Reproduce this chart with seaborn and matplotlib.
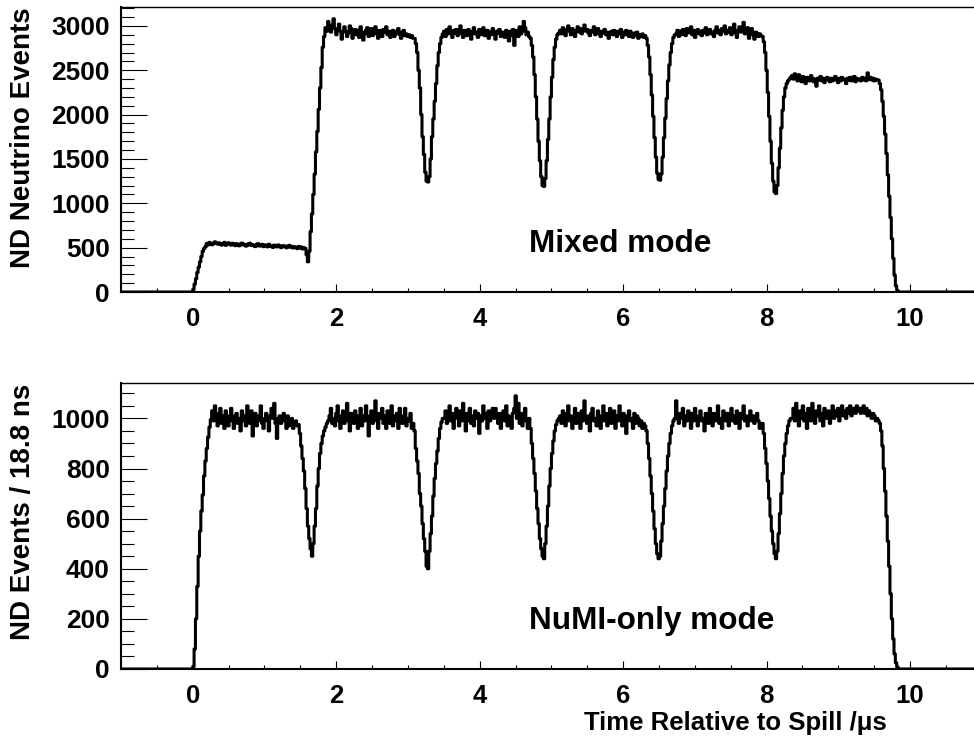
import numpy as np
import pandas as pd
import matplotlib
matplotlib.use("Agg")
import matplotlib.pyplot as plt
import seaborn as sns
from matplotlib.ticker import MultipleLocator

# ---------------- data: ND events per 18.8 ns bin ----------------
bin_width_us = 0.0188
first_edge_us = -1.0152
n_empty_before = 54
n_empty_after = 61

mixed_counts = [
    30, 90, 150, 220, 280, 340, 400, 460, 490, 510,
    548, 530, 560, 545, 532, 551, 566, 549, 540, 555,
    538, 529, 547, 560, 526, 539, 555, 541, 528, 550,
    537, 522, 546, 531, 520, 543, 551, 530, 538, 517,
    526, 545, 549, 524, 533, 520, 512, 537, 545, 518,
    523, 538, 511, 530, 527, 509, 538, 516, 521, 502,
    529, 516, 508, 531, 514, 500, 523, 511, 519, 498,
    510, 526, 504, 515, 496, 510, 502, 489, 514, 497,
    508, 485, 500, 490,
    420, 340,
    460, 680, 880, 1100, 1330, 1580, 1810, 2060, 2300, 2530, 2760, 2880,
    2980, 2940, 3050, 2960, 2930, 3010, 3080, 2970, 2900, 2960,
    3020, 2940, 2850, 2930, 2990, 2940, 2880, 2920, 3000, 2970,
    2860, 2920, 2960, 2900, 2950, 2870, 2990, 2930, 2840, 2910,
    2950, 2980, 2880, 2930, 2970, 2890, 2940, 2990, 2910, 2860,
    2950, 2920, 2880, 2960, 2930, 2990, 2900, 2940, 2870, 2920,
    2950, 2880, 2910, 2940, 2970, 2900, 2860, 2930, 2950, 2890,
    2910, 2880, 2900, 2870, 2890, 2860,
    2860, 2800, 2700, 2500, 2300, 2000, 1750, 1550, 1350, 1250, 1240,
    1300, 1500, 1750, 1950, 2150, 2350, 2550, 2700, 2800, 2870, 2910,
    2940, 2880, 2960, 2910, 2990, 2930, 2870, 2950, 2920, 2960,
    2890, 2940, 3000, 2910, 2870, 2950, 2930, 2890, 2960, 2920,
    2850, 2940, 2980, 2910, 2930, 2870, 2960, 2900, 2940, 2980,
    2890, 2920, 2950, 2860, 2930, 2900, 2970, 2910, 2850, 2940,
    2920, 2960, 2880, 2930, 2900, 2870, 2950, 2910, 2830, 2940,
    2890, 2960, 2780, 2920, 2950, 2880, 2990, 2910, 2940, 3050,
    2980, 2900, 2930, 2880,
    2860, 2780, 2650, 2450, 2200, 1950, 1700, 1480, 1300, 1200, 1190,
    1280, 1480, 1720, 1950, 2200, 2420, 2620, 2760, 2850, 2900, 2920,
    2950, 2910, 2980, 2930, 2890, 2960, 3000, 2940, 2900, 2970,
    2920, 2880, 2950, 2990, 2930, 2970, 2910, 2950, 3010, 2940,
    2960, 2920, 2890, 2950, 2930, 2990, 2900, 2940, 2970, 2910,
    2880, 2940, 2920, 2960, 2900, 2930, 2860, 2910, 2940, 2900,
    2950, 2920, 2880, 2940, 2910, 2960, 2870, 2930, 2900, 2950,
    2920, 2880, 2940, 2900, 2870, 2920, 2890, 2930, 2860, 2900,
    2880, 2910, 2870, 2890,
    2860, 2780, 2650, 2450, 2220, 1980, 1740, 1520, 1340, 1270, 1260,
    1330, 1520, 1740, 1960, 2180, 2380, 2560, 2700, 2800, 2870, 2900,
    2910, 2950, 2880, 2940, 2900, 2960, 2930, 2890, 2970, 2920,
    2940, 2990, 2900, 2950, 2870, 2930, 2960, 2910, 2940, 2890,
    2950, 2920, 2980, 2900, 2940, 2960, 2910, 2930, 2880, 2950,
    2990, 2920, 2950, 2900, 2970, 2940, 3000, 2910, 2950, 2930,
    2980, 2900, 2960, 3020, 2920, 2870, 2950, 2990, 2930, 2960,
    3040, 2910, 2950, 2980, 2860, 2940, 2970, 2900, 2850, 2930,
    2920, 2880, 2910, 2890,
    2880, 2820, 2700, 2500, 2250, 1980, 1700, 1450, 1250, 1130, 1110,
    1200, 1400, 1620, 1850, 2050, 2200, 2300, 2350, 2380, 2400, 2420,
    2440, 2400, 2460, 2420, 2380, 2450, 2410, 2370, 2430, 2390,
    2350, 2420, 2400, 2380, 2440, 2410, 2370, 2400, 2320, 2410,
    2390, 2430, 2380, 2410, 2360, 2400, 2420, 2390, 2370, 2410,
    2380, 2400, 2430, 2390, 2360, 2410, 2380, 2420, 2400, 2390,
    2350, 2410, 2390, 2420, 2380, 2400, 2430, 2370, 2410, 2390,
    2400, 2380, 2420, 2390, 2410, 2380, 2470, 2400, 2420, 2390,
    2410, 2380, 2400, 2390,
    2390, 2350, 2280, 2150, 1980, 1780, 1560, 1320, 1080, 840, 600, 380,
    190, 70, 15, 0,
]

numi_counts = [
    10, 80, 200, 330, 450, 550, 630, 695, 770, 830, 880, 925, 965, 995,
    1030, 990, 1050, 1000, 970, 1020, 1040, 980, 1010, 960,
    1030, 1000, 970, 1010, 1040, 990, 960, 1010, 1020, 980,
    1000, 950, 1030, 990, 1010, 970, 1050, 1000, 980, 1030,
    930, 1000, 1020, 970, 990, 1010, 1050, 980, 960, 1000,
    1020, 990, 950, 1010, 1040, 1000, 1060, 980, 920, 1000,
    1010, 980, 990, 1020, 1000, 960, 1010, 970, 990, 1000,
    960, 980, 990, 970,
    975, 940, 890, 840, 790, 720, 640, 570, 520, 480, 450,
    500, 570, 640, 730, 800, 860, 900, 930, 950, 965, 980,
    990, 1010, 1040, 980, 1000, 970, 1020, 1050, 990, 960,
    1010, 1030, 980, 1000, 1060, 990, 950, 1020, 1000, 980,
    1030, 1010, 960, 1000, 1040, 970, 1010, 990, 1050, 1000,
    930, 1010, 1030, 980, 1000, 1070, 990, 960, 1020, 1000,
    1040, 980, 1010, 960, 1030, 1000, 980, 1050, 970, 1010,
    990, 1020, 960, 1040, 1000, 980, 1010, 1040, 970, 1000,
    990, 1020, 960, 980,
    950, 880, 830, 780, 700, 650, 580, 520, 470, 410, 400,
    470, 540, 610, 690, 760, 820, 870, 920, 960, 985, 1000,
    1000, 1030, 980, 1010, 1050, 990, 1020, 960, 1000, 1040,
    1010, 970, 1030, 990, 1060, 1000, 950, 1020, 990, 1040,
    980, 1010, 970, 1030, 1000, 1020, 940, 1010, 990, 1050,
    1000, 1020, 960, 1030, 990, 1010, 1040, 1000, 1040, 1010,
    980, 1020, 960, 1000, 1030, 990, 1050, 970, 1010, 1000,
    960, 1020, 1040, 1090, 1000, 1060, 980, 1020, 970, 1010,
    1040, 990, 960, 1000,
    960, 900, 840, 780, 710, 640, 580, 520, 480, 450, 440,
    500, 570, 650, 730, 800, 860, 910, 950, 975, 990, 1000,
    1010, 980, 1030, 1000, 970, 1020, 1050, 990, 1010, 960,
    1000, 1040, 980, 1020, 1000, 960, 1030, 990, 1070, 1000,
    980, 1010, 950, 1020, 1040, 990, 1000, 970, 1030, 1010,
    960, 1000, 1050, 990, 1020, 970, 1010, 1040, 980, 1000,
    1030, 960, 1010, 990, 1050, 1000, 970, 1020, 1000, 940,
    1010, 1030, 990, 1000, 960, 1020, 980, 1010, 1000, 970,
    990, 960, 980, 970,
    950, 900, 840, 770, 700, 630, 560, 500, 460, 440, 450,
    510, 580, 650, 720, 790, 850, 900, 940, 970, 990, 1000,
    1070, 1000, 980, 1020, 1000, 1040, 970, 1010, 990, 1030,
    1000, 960, 1020, 990, 1040, 1000, 970, 1010, 1030, 990,
    1000, 950, 1020, 1010, 980, 1040, 1000, 970, 1020, 990,
    1010, 1050, 980, 1000, 960, 1030, 1010, 990, 1020, 970,
    1000, 1040, 990, 1010, 980, 1030, 1000, 960, 1020, 1000,
    1050, 990, 1010, 970, 1000, 1030, 990, 1010, 980, 1000,
    1020, 990, 960, 980,
    980, 940, 880, 820, 750, 680, 610, 550, 500, 460, 440,
    470, 540, 620, 700, 780, 850, 900, 940, 970, 990, 1000,
    1000, 1040, 990, 1060, 1010, 970, 1030, 1000, 1050, 990,
    1020, 960, 1040, 1010, 990, 1060, 1000, 980, 1030, 1010,
    1050, 990, 1020, 970, 1040, 1010, 1000, 1030, 980, 1020,
    1050, 1000, 1030, 1010, 1040, 990, 1020, 1050, 1010, 1030,
    1000, 1040, 1020, 1050, 1010, 1030, 1040, 1020, 1050, 1030,
    1040, 1020, 1030, 1050, 1020, 1040, 1010, 1030, 1020, 1000,
    1020, 1010, 990, 1000,
    990, 980, 950, 890, 800, 710, 610, 510, 410, 300, 200, 120,
    60, 25, 8, 0,
]

panel_texts = ["Mixed mode", "NuMI-only mode"]
y_titles = ["ND Neutrino Events", "ND Events / 18.8 ns"]
x_title = "Time Relative to Spill /\u03bcs"
y_major = [500, 200]
y_minor = [100, 50]
y_top = [3213, 1140]

# ---------------- style ----------------
sns.set_style("ticks")
plt.rcParams["font.family"] = ["Liberation Sans", "DejaVu Sans"]
plt.rcParams["font.weight"] = "bold"
for key in ["text.color", "axes.labelcolor", "xtick.color", "ytick.color",
            "axes.edgecolor"]:
    plt.rcParams[key] = "black"

W, H = 974, 739
fig = plt.figure(figsize=(W / 100, H / 100), dpi=100)

def fx(px):
    return px / W

def fy(py):
    return 1 - py / H

axes_px = [(7, 292), (383.3, 669)]  # (top, bottom) in pixels
left_px, right_px = 121, 981.8

for i, counts in enumerate([mixed_counts, numi_counts]):
    top, bot = axes_px[i]
    ax = fig.add_axes([fx(left_px), fy(bot), fx(right_px - left_px), (bot - top) / H])
    full = np.array([0] * n_empty_before + counts + [0] * n_empty_after, dtype=float)
    n_bins = len(full)
    centers = first_edge_us + bin_width_us * (np.arange(n_bins) + 0.5)
    df = pd.DataFrame({"t": centers, "n": full})
    sns.histplot(data=df, x="t", weights="n", bins=n_bins,
                 binrange=(first_edge_us, first_edge_us + n_bins * bin_width_us),
                 element="step", fill=False, color="black", linewidth=2.2, ax=ax)
    ax.set_xlim(-1, 11)
    ax.set_ylim(0, y_top[i])
    ax.set_xlabel("")
    ax.set_ylabel("")
    ax.xaxis.set_major_locator(MultipleLocator(2))
    ax.xaxis.set_minor_locator(MultipleLocator(0.5))
    ax.yaxis.set_major_locator(MultipleLocator(y_major[i]))
    ax.yaxis.set_minor_locator(MultipleLocator(y_minor[i]))
    ax.tick_params(axis="y", which="major", direction="in", length=18.7, width=0.8,
                   labelsize=19, pad=8, color="black", labelcolor="black")
    ax.tick_params(axis="y", which="minor", direction="in", length=9.4, width=0.8,
                   color="black")
    ax.tick_params(axis="x", which="major", direction="in", length=6.1, width=0.8,
                   labelsize=18.5, pad=11, color="black", labelcolor="black")
    ax.tick_params(axis="x", which="minor", direction="in", length=3.2, width=0.8,
                   color="black")
    for lab in ax.get_xticklabels() + ax.get_yticklabels():
        lab.set_fontweight("bold")
    ax.spines["left"].set_linewidth(1.5)
    ax.spines["bottom"].set_linewidth(1.5)
    ax.spines["top"].set_visible(True)
    ax.spines["top"].set_linewidth(1.0)
    ax.spines["right"].set_visible(False)
    for s in ax.spines.values():
        s.set_color("black")
    ax.set_facecolor("white")

    # y-axis titles (right-aligned to the top of the axis, ROOT style)
    fig.text(fx(23), fy(top), y_titles[i], rotation=90, ha="center", va="top",
             fontsize=20, fontweight="bold", color="black")

fig.text(fx(529), fy(252.3), panel_texts[0], ha="left", va="baseline",
         fontsize=22.7, fontweight="bold", color="black")
fig.text(fx(529), fy(629.3), panel_texts[1], ha="left", va="baseline",
         fontsize=22.7, fontweight="bold", color="black")
fig.text(fx(887), fy(730), x_title, ha="right", va="baseline",
         fontsize=18.5, fontweight="bold", color="black")

fig.savefig("out.png", dpi=100, facecolor="white")
